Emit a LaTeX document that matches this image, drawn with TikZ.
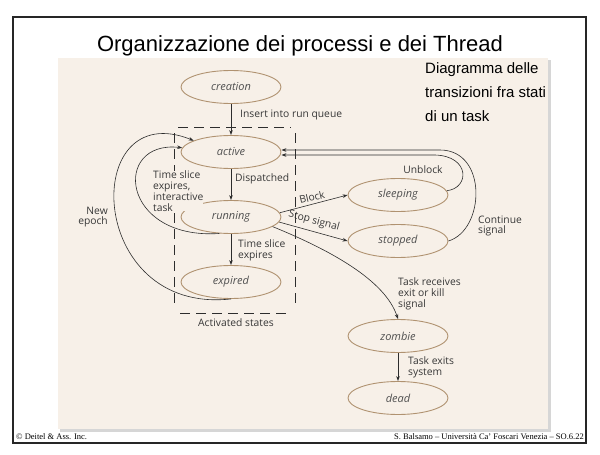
\documentclass[tikz,border=0pt]{standalone}
\usepackage{fontspec}
\setmainfont{Liberation Sans}
\newfontfamily\labelfont{Open Sans}
\newfontfamily\footfont{Liberation Serif}
\usetikzlibrary{shapes.geometric,arrows.meta,calc}

\definecolor{paper}{RGB}{247,240,232}
\definecolor{papershadow}{RGB}{214,214,214}
\definecolor{edgebrown}{RGB}{176,146,112}
\definecolor{statetext}{RGB}{80,80,80}
\definecolor{labeltext}{RGB}{55,55,55}
\definecolor{linegray}{RGB}{45,45,45}

\tikzset{
  state/.style={ellipse, draw=edgebrown, line width=0.9pt,
    minimum width=100pt, minimum height=33pt, inner sep=0pt,
    font=\labelfont\itshape\fontsize{11}{13}\selectfont, text=statetext},
  conn/.style={draw=linegray, line width=0.6pt,
    -{Stealth[length=5pt,width=3.6pt]}},
  lbl/.style={font=\labelfont\fontsize{10.3}{10.8}\selectfont,
    text=labeltext, inner sep=0pt},
  regionline/.style={draw=linegray, line width=0.7pt,
    dash pattern=on 10pt off 6pt}
}

\begin{document}
\begin{tikzpicture}[x=1pt,y=-1pt]
\useasboundingbox (0,0) rectangle (600,455);
\fill[white] (0,0) rectangle (600,455);

% slide frame
\draw[line width=1.6pt, black!85] (13,17) rectangle (586,443);

% paper sheet with its shadow
\fill[papershadow] (60,60) rectangle (551,432);
\fill[paper] (58,58) rectangle (548,429);

% title and side note
\node[anchor=base, font=\fontsize{22}{26}\selectfont] (title) at (300,51)
  {Organizzazione dei processi e dei Thread};
\node[anchor=north west, align=left, inner sep=0pt,
      font=\fontsize{15}{24}\selectfont] (note) at (425,62)
  {Diagramma delle\\transizioni fra stati\\di un task};

% states
\node[state] (creation) at (231,87)  {creation};
\node[state] (active)   at (231,152) {active};
\node[state] (running)  at (231,217) {running};
\node[state] (expired)  at (231,282) {expired};
\node[state] (sleeping) at (398,195) {sleeping};
\node[state] (stopped)  at (398,241) {stopped};
\node[state] (zombie)   at (398,336) {zombie};
\node[state] (dead)     at (398,398) {dead};

% activated states region
\coordinate (rtl) at (178,127);
\coordinate (rtr) at (291,127);
\coordinate (rbl) at (180,313);
\coordinate (rbr) at (289,313);
\coordinate (rlt) at (174,133);
\coordinate (rlb) at (174,309);
\coordinate (rrt) at (295,133);
\coordinate (rrb) at (295,309);
\draw[regionline] (rtl) -- (rtr);
\draw[regionline] (rbl) -- (rbr);
\draw[regionline] (rlt) -- (rlb);
\draw[regionline] (rrt) -- (rrb);
\node[lbl] (actlbl) at (236,323) {Activated states};

% straight transitions
\draw[conn] (creation) -- (active);
\draw[conn] (active) -- (running);
\draw[conn] (running) -- (expired);
\draw[conn] (zombie) -- (dead);
\draw[conn] (running.5) -- (sleeping.west);
\draw[conn] (running.-6) -- (stopped.west);

% curved transitions
\draw[conn] (running.235) .. controls (120,240) and (112,140) .. (active.175);
\draw[conn] (expired.south) .. controls (85,315) and (80,95) .. (active.163);
\draw[conn] (running.-13) .. controls (330,250) and (385,280) .. (zombie.north);
\draw[conn] (sleeping.5) .. controls (470,188) and (470,156) .. (435,155)
  -- ($(active.east)+(0,3)$);
\draw[conn] (stopped.east) .. controls (485,230) and (488,150) .. (440,150)
  -- ($(active.east)+(0,-2)$);

% transition labels
\node[lbl, anchor=west] (l1) at (240,115) {Insert into run queue};
\node[lbl, anchor=west] (l2) at (235,179) {Dispatched};
\node[lbl, anchor=west, align=left] (l3) at (238,250) {Time slice\\expires};
\node[lbl, anchor=west, align=left, fill=paper] (l4) at (153,191)
  {Time slice\\expires,\\interactive\\task};
\node[lbl, anchor=east, align=right] (l5) at (108,217) {New\\epoch};
\node[lbl, rotate=13] (l6) at (312,197) {Block};
\node[lbl, rotate=-15] (l7) at (314,221) {Stop signal};
\node[lbl] (l8) at (423,170) {Unblock};
\node[lbl, anchor=west, align=left] (l9) at (478,226) {Continue\\signal};
\node[lbl, anchor=west, align=left] (l10) at (398,294)
  {Task receives\\exit or kill\\signal};
\node[lbl, anchor=west, align=left] (l11) at (408,367) {Task exits\\system};

% footer
\node[anchor=base west, inner sep=0pt, font=\footfont\fontsize{8.5}{10}\selectfont]
  (credit) at (16,439) {© Deitel \& Ass. Inc.};
\node[anchor=base east, inner sep=0pt, font=\footfont\fontsize{8.5}{10}\selectfont]
  (course) at (584,439) {S. Balsamo – Università Ca’ Foscari Venezia – SO.6.22};
\end{tikzpicture}
\end{document}
